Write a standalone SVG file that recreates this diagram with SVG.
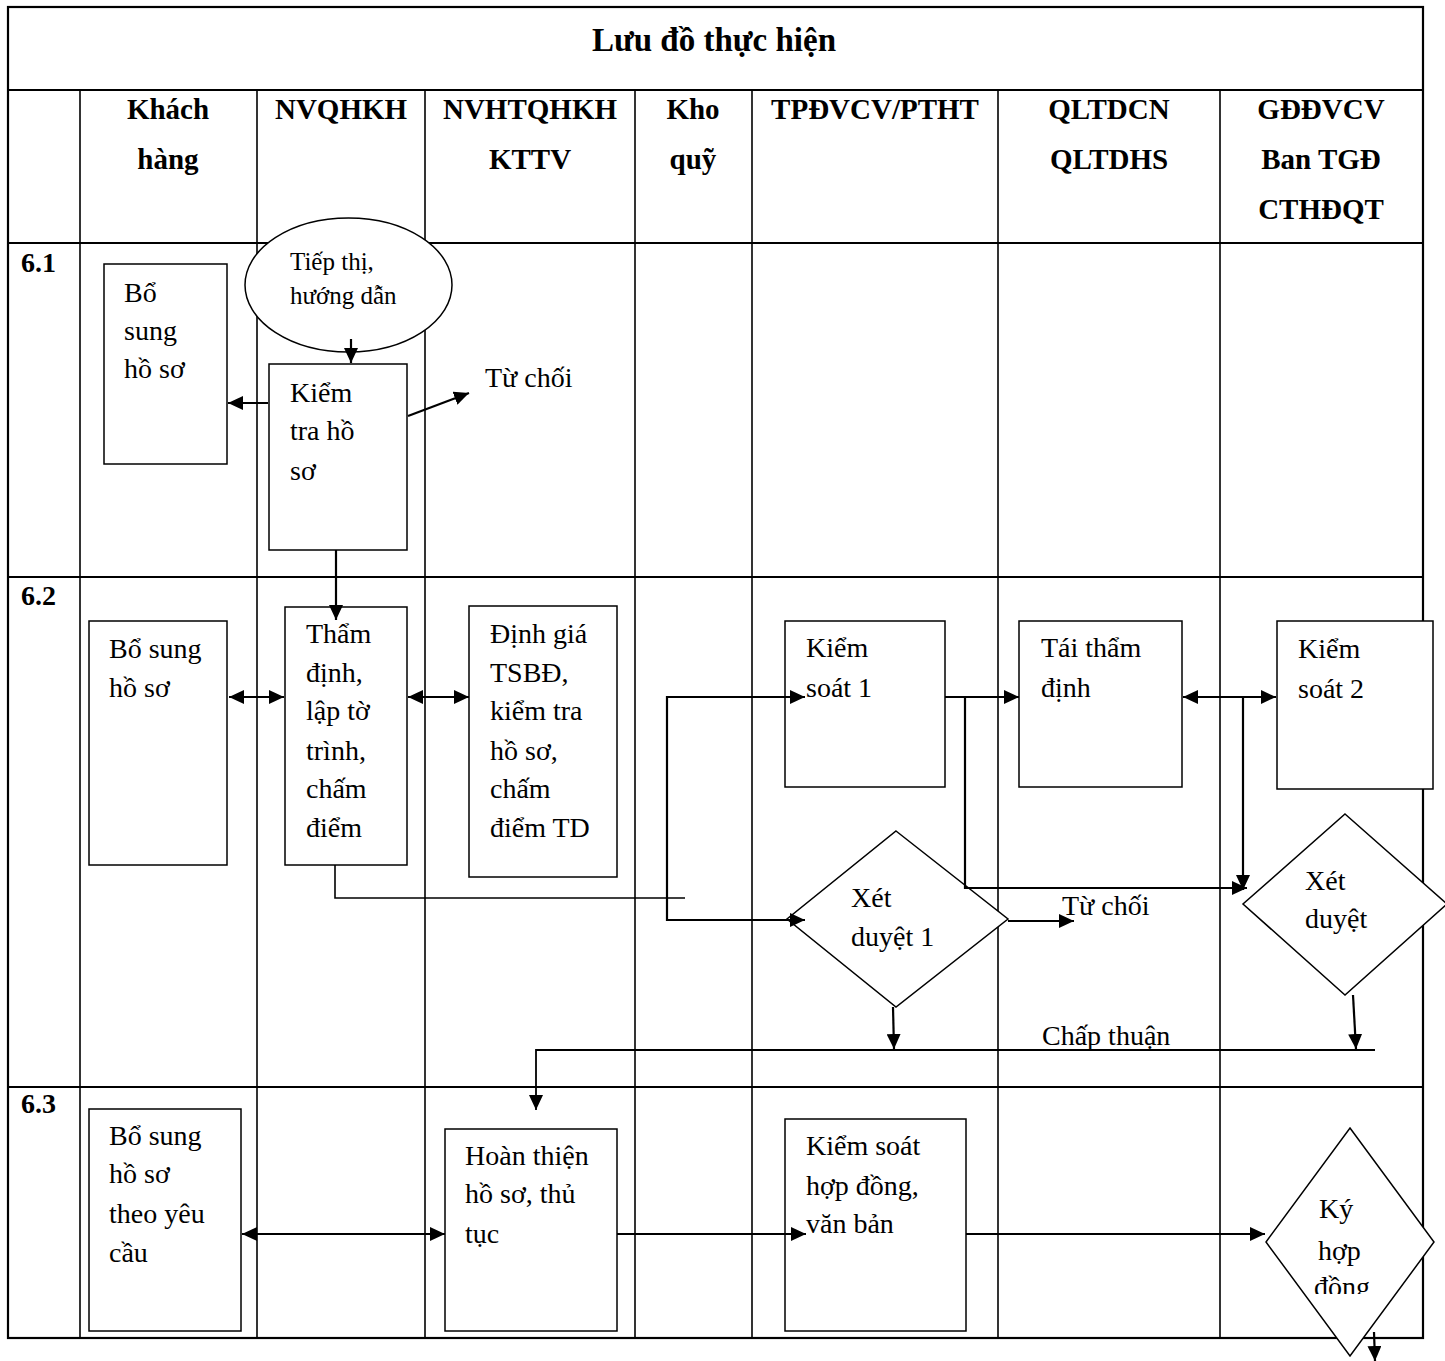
<svg xmlns="http://www.w3.org/2000/svg" width="1445" height="1361" viewBox="0 0 1445 1361">
<style>
.gt{stroke:#000;stroke-width:2.2;fill:none}
.g{stroke:#000;stroke-width:1.6;fill:none}
.box{fill:#fff;stroke:#000;stroke-width:1.5}
.c{fill:none;stroke:#000;stroke-width:2.2}
.t{font-family:"Liberation Serif","Times New Roman",serif;font-size:28px;fill:#000}
.s{font-size:25px}
.h{font-weight:bold;font-size:29px;text-anchor:middle}
.lbl{font-weight:bold;font-size:28px}
.ttl{font-weight:bold;font-size:33px;text-anchor:middle}
</style>
<defs>
<marker id="ar" markerUnits="userSpaceOnUse" markerWidth="15" markerHeight="14" refX="15" refY="7" orient="auto-start-reverse">
<path d="M0,0 L15,7 L0,14 z" fill="#000"/>
</marker>
<clipPath id="kyclip"><rect x="1260" y="1120" width="180" height="174"/></clipPath>
</defs>
<rect width="1445" height="1361" fill="#fff"/>
<g id="table">
<rect x="8" y="7" width="1415" height="1331" class="gt"/>
<line x1="8" y1="90" x2="1423" y2="90" class="gt"/>
<line x1="8" y1="243" x2="1423" y2="243" class="gt"/>
<line x1="8" y1="577" x2="1423" y2="577" class="gt"/>
<line x1="8" y1="1087" x2="1423" y2="1087" class="gt"/>
<line x1="80" y1="90" x2="80" y2="1338" class="g"/>
<line x1="257" y1="90" x2="257" y2="1338" class="g"/>
<line x1="425" y1="90" x2="425" y2="1338" class="g"/>
<line x1="635" y1="90" x2="635" y2="1338" class="g"/>
<line x1="752" y1="90" x2="752" y2="1338" class="g"/>
<line x1="998" y1="90" x2="998" y2="1338" class="g"/>
<line x1="1220" y1="90" x2="1220" y2="1338" class="g"/>
<text class="t ttl" x="714" y="51">Lưu đồ thực hiện</text>
<text class="t h" x="168" y="119">Khách</text>
<text class="t h" x="168" y="169">hàng</text>
<text class="t h" x="341" y="119">NVQHKH</text>
<text class="t h" x="530" y="119">NVHTQHKH</text>
<text class="t h" x="530" y="169">KTTV</text>
<text class="t h" x="693" y="119">Kho</text>
<text class="t h" x="693" y="169">quỹ</text>
<text class="t h" x="875" y="119">TPĐVCV/PTHT</text>
<text class="t h" x="1109" y="119">QLTDCN</text>
<text class="t h" x="1109" y="169">QLTDHS</text>
<text class="t h" x="1321" y="119">GĐĐVCV</text>
<text class="t h" x="1321" y="169">Ban TGĐ</text>
<text class="t h" x="1321" y="219">CTHĐQT</text>
<text class="t lbl" x="21" y="272">6.1</text>
<text class="t lbl" x="21" y="605">6.2</text>
<text class="t lbl" x="21" y="1113">6.3</text>
</g>
<g id="n-tiepthi">
<ellipse cx="348.5" cy="285" rx="103.5" ry="67" class="box"/>
<text class="t s" x="290" y="270">Tiếp thị,</text>
<text class="t s" x="290" y="304">hướng dẫn</text>
</g>
<g id="n-bosung1">
<rect x="104" y="264" width="123" height="200" class="box"/>
<text class="t" x="124" y="302">Bổ</text>
<text class="t" x="124" y="340">sung</text>
<text class="t" x="124" y="378">hồ sơ</text>
</g>
<g id="n-kiemtra">
<rect x="269" y="364" width="138" height="186" class="box"/>
<text class="t" x="290" y="402">Kiểm</text>
<text class="t" x="290" y="440">tra hồ</text>
<text class="t" x="290" y="480">sơ</text>
</g>
<g id="n-tuchoi1">
<text class="t" x="485" y="387">Từ chối</text>
</g>
<g id="n-bosung2">
<rect x="89" y="621" width="138" height="244" class="box"/>
<text class="t" x="109" y="658">Bổ sung</text>
<text class="t" x="109" y="697">hồ sơ</text>
</g>
<g id="n-thamdinh">
<rect x="285" y="607" width="122" height="258" class="box"/>
<text class="t" x="306" y="643">Thẩm</text>
<text class="t" x="306" y="682">định,</text>
<text class="t" x="306" y="720">lập tờ</text>
<text class="t" x="306" y="760">trình,</text>
<text class="t" x="306" y="798">chấm</text>
<text class="t" x="306" y="837">điểm</text>
</g>
<g id="n-dinhgia">
<rect x="469" y="606" width="148" height="271" class="box"/>
<text class="t" x="490" y="643">Định giá</text>
<text class="t" x="490" y="682">TSBĐ,</text>
<text class="t" x="490" y="720">kiểm tra</text>
<text class="t" x="490" y="760">hồ sơ,</text>
<text class="t" x="490" y="798">chấm</text>
<text class="t" x="490" y="837">điểm TD</text>
</g>
<g id="n-kiemsoat1">
<rect x="785" y="621" width="160" height="166" class="box"/>
<text class="t" x="806" y="657">Kiểm</text>
<text class="t" x="806" y="697">soát 1</text>
</g>
<g id="n-taithamdinh">
<rect x="1019" y="621" width="163" height="166" class="box"/>
<text class="t" x="1041" y="657">Tái thẩm</text>
<text class="t" x="1041" y="697">định</text>
</g>
<g id="n-kiemsoat2">
<rect x="1277" y="621" width="156" height="168" class="box"/>
<text class="t" x="1298" y="658">Kiểm</text>
<text class="t" x="1298" y="698">soát 2</text>
</g>
<g id="n-xetduyet1">
<polygon points="896,831 1008,919 896,1007 787,919" class="box"/>
<text class="t" x="851" y="907">Xét</text>
<text class="t" x="851" y="946">duyệt 1</text>
</g>
<g id="n-tuchoi2">
<text class="t" x="1062" y="915">Từ chối</text>
</g>
<g id="n-xetduyet2">
<polygon points="1345,814 1447,904 1345,995 1243,904" class="box"/>
<text class="t" x="1305" y="890">Xét</text>
<text class="t" x="1305" y="928">duyệt</text>
</g>
<g id="n-chapthuan">
<text class="t" x="1042" y="1045">Chấp thuận</text>
</g>
<g id="n-bosung3">
<rect x="89" y="1109" width="152" height="222" class="box"/>
<text class="t" x="109" y="1145">Bổ sung</text>
<text class="t" x="109" y="1183">hồ sơ</text>
<text class="t" x="109" y="1223">theo yêu</text>
<text class="t" x="109" y="1262">cầu</text>
</g>
<g id="n-hoanthien">
<rect x="445" y="1129" width="172" height="202" class="box"/>
<text class="t" x="465" y="1165">Hoàn thiện</text>
<text class="t" x="465" y="1203">hồ sơ, thủ</text>
<text class="t" x="465" y="1243">tục</text>
</g>
<g id="n-kiemsoathd">
<rect x="785" y="1119" width="181" height="212" class="box"/>
<text class="t" x="806" y="1155">Kiểm soát</text>
<text class="t" x="806" y="1195">hợp đồng,</text>
<text class="t" x="806" y="1233">văn bản</text>
</g>
<g id="n-kyhopdong">
<polygon points="1350,1128 1434,1242 1350,1356 1266,1242" class="box"/>
<text class="t" x="1319" y="1218">Ký</text>
<text class="t" x="1318" y="1260">hợp</text>
<text class="t" x="1314" y="1296" clip-path="url(#kyclip)">đồng</text>
</g>
<g id="connectors">
<path class="c" d="M351,339 L351,363" marker-end="url(#ar)"/>
<path class="c" d="M268,403 L228,403" marker-end="url(#ar)"/>
<path class="c" d="M408,416 L469,393" marker-end="url(#ar)"/>
<path class="c" d="M336,550 L336,620" marker-end="url(#ar)"/>
<path class="c" d="M229,697 L284,697" marker-start="url(#ar)" marker-end="url(#ar)"/>
<path class="c" d="M408,697 L469,697" marker-start="url(#ar)" marker-end="url(#ar)"/>
<path class="c" d="M335,865 L335,898 L685,898" style="stroke-width:1.6"/>
<path class="c" d="M805,697 L667,697 L667,920 L805,920" marker-start="url(#ar)" marker-end="url(#ar)"/>
<path class="c" d="M945,697 L1019,697" marker-end="url(#ar)"/>
<path class="c" d="M965,697 L965,888 L1247,888" marker-end="url(#ar)"/>
<path class="c" d="M1183,697 L1276,697" marker-start="url(#ar)" marker-end="url(#ar)"/>
<path class="c" d="M1243,697 L1243,890" marker-end="url(#ar)"/>
<path class="c" d="M1008,921 L1074,921" marker-end="url(#ar)"/>
<path class="c" d="M893,1007 L894,1049" marker-end="url(#ar)"/>
<path class="c" d="M1353,995 L1356,1049" marker-end="url(#ar)"/>
<path class="c" d="M1375,1050 L536,1050 L536,1110" style="stroke-width:1.8" marker-end="url(#ar)"/>
<path class="c" d="M242,1234 L445,1234" marker-start="url(#ar)" marker-end="url(#ar)"/>
<path class="c" d="M617,1234 L806,1234" marker-end="url(#ar)"/>
<path class="c" d="M966,1234 L1265,1234" marker-end="url(#ar)"/>
<path class="c" d="M1374,1332 L1375,1361" marker-end="url(#ar)"/>
</g>
</svg>
